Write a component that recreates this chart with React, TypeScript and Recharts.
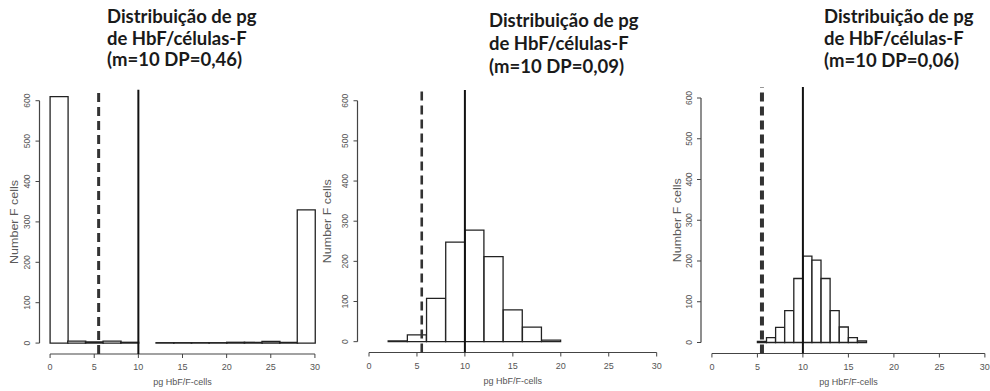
import React from 'react';
import { ComposedChart, Bar, XAxis, YAxis, ReferenceLine } from 'recharts';

// ---------- data ----------
const binStarts2 = [0, 2, 4, 6, 8, 10, 12, 14, 16, 18, 20, 22, 24, 26, 28];
const binStarts1 = [0, 1, 2, 3, 4, 5, 6, 7, 8, 9, 10, 11, 12, 13, 14, 15, 16, 17, 18, 19, 20, 21, 22, 23, 24, 25, 26, 27, 28, 29];

const panel1Counts = [610, 5, 3, 5, 2, 0, 1, 1, 1, 1, 2, 2, 4, 2, 330];
const panel2Counts = [0, 2, 17, 108, 248, 278, 212, 79, 36, 4, 0, 0, 0, 0, 0];
const panel3Counts = [0, 0, 0, 0, 0, 3, 12, 37, 78, 157, 212, 202, 157, 78, 38, 12, 4, 0, 0, 0, 0, 0, 0, 0, 0, 0, 0, 0, 0, 0];

const xTicks = [0, 5, 10, 15, 20, 25, 30];
const yTicks = [0, 100, 200, 300, 400, 500, 600];

const meanValue = 10;
const thresholdValue = 5.5;

const titleLine1 = 'Distribuição de pg';
const titleLine2 = 'de HbF/células-F';
const titleLines3 = ['(m=10 DP=0,46)', '(m=10 DP=0,09)', '(m=10 DP=0,06)'];

const xTitle = 'pg HbF/F-cells';
const yTitle = 'Number F cells';

// ---------- layout ----------
const W = 1010;
const H = 391;
const X_DOMAIN: [number, number] = [-1.2, 31.2];
const Y_DOMAIN: [number, number] = [-27, 627];
const YW = 30;
const XH = 32;

type PanelCfg = {
  starts: number[];
  counts: number[];
  plotLeft: number;
  plotRight: number;
  plotTop: number;
  plotBottom: number;
  yTitleDx: number;
  dashWidth: number;
  title3: string;
  titleLeft: number;
  titleTop: number;
  titleLH: number;
};

const panels: PanelCfg[] = [
  { starts: binStarts2, counts: panel1Counts, plotLeft: 39.5, plotRight: 325.5, plotTop: 89.8, plotBottom: 354, yTitleDx: 25, dashWidth: 3, title3: titleLines3[0], titleLeft: 107, titleTop: 6, titleLH: 21.5 },
  { starts: binStarts2, counts: panel2Counts, plotLeft: 357.5, plotRight: 668.2, plotTop: 89.9, plotBottom: 352.5, yTitleDx: 30, dashWidth: 2.6, title3: titleLines3[1], titleLeft: 489, titleTop: 9, titleLH: 23 },
  { starts: binStarts1, counts: panel3Counts, plotLeft: 701, plotRight: 995.8, plotTop: 87, plotBottom: 353.5, yTitleDx: 24, dashWidth: 4, title3: titleLines3[2], titleLeft: 824, titleTop: 5, titleLH: 22 },
];

const tickFont = '"Liberation Sans", Arial, sans-serif';

const YTick = (props: any) => {
  const { x, y, payload } = props;
  const tx = x - 3;
  return (
    <text x={tx} y={y} transform={`rotate(-90 ${tx} ${y})`} textAnchor="middle" fontSize={8.5} fill="#555" fontFamily={tickFont}>
      {payload.value}
    </text>
  );
};

const XTick = (props: any) => {
  const { x, y, payload } = props;
  return (
    <text x={x} y={y + 10} textAnchor="middle" fontSize={9} fill="#555" fontFamily={tickFont}>
      {payload.value}
    </text>
  );
};

function Panel({ cfg }: { cfg: PanelCfg }) {
  const data = cfg.starts.map((s, i) => ({ bin: s, count: cfg.counts[i] }));
  const plotW = cfg.plotRight - cfg.plotLeft;
  const pad = (1.2 / 32.4) * plotW;
  const margin = {
    top: cfg.plotTop,
    left: cfg.plotLeft - YW,
    right: W - cfg.plotRight,
    bottom: H - cfg.plotBottom - XH,
  };
  return (
    <div style={{ position: 'absolute', left: 0, top: 0 }}>
      <ComposedChart width={W} height={H} data={data} margin={margin} barCategoryGap={0} barGap={0}>
        <XAxis
          xAxisId="num"
          dataKey="bin"
          type="number"
          domain={X_DOMAIN}
          allowDataOverflow
          ticks={xTicks}
          axisLine={false}
          tickLine={{ stroke: '#444', strokeWidth: 1 }}
          tickSize={4}
          height={XH}
          tick={<XTick />}
          interval={0}
          label={{
            content: (p: any) => {
              const vb = p.viewBox;
              return (
                <text x={vb.x + vb.width / 2} y={vb.y + 31} textAnchor="middle" fontSize={9} fill="#555" fontFamily={tickFont}>
                  {xTitle}
                </text>
              );
            },
          }}
        />
        <XAxis xAxisId="bin" dataKey="bin" type="category" hide height={0} padding={{ left: pad, right: pad }} />
        <YAxis
          type="number"
          domain={Y_DOMAIN}
          allowDataOverflow
          ticks={yTicks}
          interval={0}
          axisLine={false}
          tickLine={{ stroke: '#444', strokeWidth: 1 }}
          tickSize={4}
          width={YW}
          tick={<YTick />}
          label={{
            content: (p: any) => {
              const vb = p.viewBox;
              const cx = vb.x + vb.width - cfg.yTitleDx + 4;
              const cy = vb.y + vb.height / 2;
              return (
                <text x={cx} y={cy} transform={`rotate(-90 ${cx} ${cy})`} textAnchor="middle" fontSize={10} textLength={84} lengthAdjust="spacingAndGlyphs" fill="#5a5a5a" fontFamily={tickFont}>
                  {yTitle}
                </text>
              );
            },
          }}
        />
        <Bar xAxisId="bin" dataKey="count" fill="#fff" stroke="#222" strokeWidth={1.3} isAnimationActive={false} />
        <ReferenceLine xAxisId="num" segment={[{ x: 0, y: Y_DOMAIN[0] }, { x: 30, y: Y_DOMAIN[0] }]} stroke="#444" strokeWidth={1.2} />
        <ReferenceLine xAxisId="num" segment={[{ x: X_DOMAIN[0], y: 0 }, { x: X_DOMAIN[0], y: 600 }]} stroke="#444" strokeWidth={1.2} />
        <ReferenceLine xAxisId="num" x={thresholdValue} stroke="#333" strokeWidth={cfg.dashWidth} strokeDasharray="9 5" />
        <ReferenceLine xAxisId="num" x={meanValue} stroke="#111" strokeWidth={2} />
      </ComposedChart>
    </div>
  );
}

export default function App() {
  return (
    <div style={{ position: 'absolute', left: 0, top: 0, width: 990, height: 391, overflow: 'hidden', background: '#fff' }}>
      {panels.map((cfg, i) => (
        <Panel key={i} cfg={cfg} />
      ))}
      {panels.map((cfg, i) => (
        <div
          key={'t' + i}
          style={{
            position: 'absolute',
            left: cfg.titleLeft,
            top: cfg.titleTop,
            fontFamily: 'Lato, "Open Sans", sans-serif',
            fontWeight: 700,
            fontSize: 18.5,
            lineHeight: cfg.titleLH + 'px',
            color: '#1a1a1a',
            whiteSpace: 'nowrap',
          }}
        >
          <div>{titleLine1}</div>
          <div>{titleLine2}</div>
          <div>{cfg.title3}</div>
        </div>
      ))}
    </div>
  );
}
